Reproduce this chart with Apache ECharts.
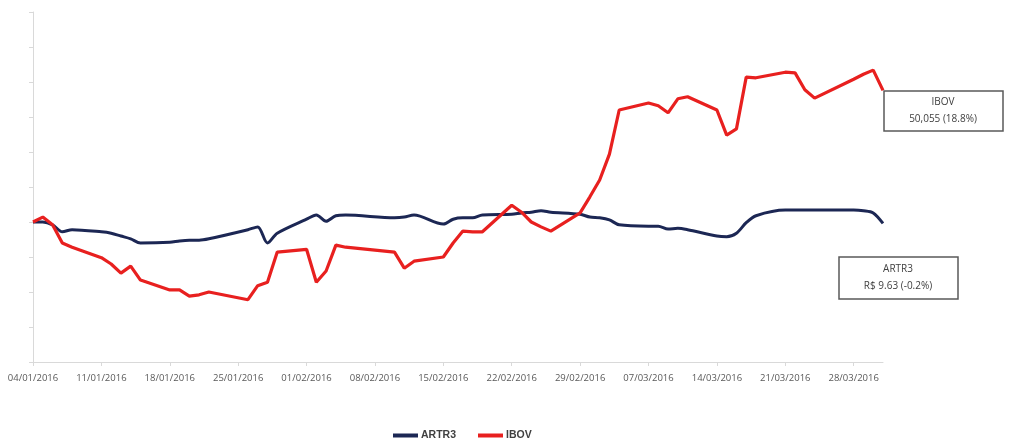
<!DOCTYPE html>
<html>
<head>
<meta charset="utf-8">
<script src="https://cdn.jsdelivr.net/npm/echarts@6/dist/echarts.min.js"></script>
<style>
html,body{margin:0;padding:0;background:#fff;}
#chart{width:1010px;height:441px;}
</style>
</head>
<body>
<div id="chart"></div>
<script>
// Trading dates (dd/mm/yyyy)
var dates = [
 "04/01/2016","05/01/2016","06/01/2016","07/01/2016","08/01/2016",
 "11/01/2016","12/01/2016","13/01/2016","14/01/2016","15/01/2016",
 "18/01/2016","19/01/2016","20/01/2016","21/01/2016","22/01/2016",
 "26/01/2016","27/01/2016","28/01/2016","29/01/2016",
 "01/02/2016","02/02/2016","03/02/2016","04/02/2016","05/02/2016",
 "10/02/2016","11/02/2016","12/02/2016",
 "15/02/2016","16/02/2016","17/02/2016","18/02/2016","19/02/2016",
 "22/02/2016","23/02/2016","24/02/2016","25/02/2016","26/02/2016",
 "29/02/2016","01/03/2016","02/03/2016","03/03/2016","04/03/2016",
 "07/03/2016","08/03/2016","09/03/2016","10/03/2016","11/03/2016",
 "14/03/2016","15/03/2016","16/03/2016","17/03/2016","18/03/2016",
 "21/03/2016","22/03/2016","23/03/2016","24/03/2016",
 "28/03/2016","29/03/2016","30/03/2016","31/03/2016"
];
// Normalised performance (base 100 on 04/01/2016)
var artr3 = [
 100.0,100.0,99.6,98.6,98.9,
 98.6,98.4,98.0,97.6,97.0,
 97.1,97.3,97.4,97.4,97.6,
 98.9,99.3,97.0,98.4,
 100.4,101.0,100.1,100.9,101.0,
 100.6,100.7,101.0,
 99.7,100.4,100.6,100.6,101.0,
 101.1,101.3,101.4,101.6,101.4,
 101.1,100.7,100.6,100.3,99.6,
 99.4,99.4,99.0,99.1,98.9,
 98.0,97.9,98.4,99.9,100.9,
 101.7,101.7,101.7,101.7,
 101.7,101.6,101.3,99.8
];
var ibov = [
 100.0,100.7,99.6,97.0,96.4,
 94.9,94.0,92.7,93.7,91.7,
 90.3,90.3,89.4,89.6,90.0,
 88.9,90.9,91.4,95.7,
 96.1,91.4,93.0,96.7,96.4,
 95.7,93.4,94.4,
 95.0,97.0,98.7,98.6,98.6,
 102.4,101.4,100.0,99.3,98.7,
 101.3,103.6,106.0,109.7,116.0,
 117.0,116.6,115.6,117.6,117.9,
 116.0,112.4,113.3,120.7,120.6,
 121.4,121.3,118.9,117.7,
 120.4,121.1,121.7,118.8
];
var seriesNames = ["ARTR3","IBOV"];
var annIbov = ["IBOV","50,055 (18.8%)"];
var annArtr = ["ARTR3","R$ 9.63 (-0.2%)"];
var yMin = 80, yMax = 130, yStep = 5;

var DAY = 86400000;
function parseD(s){var p=s.split("/");return Date.UTC(+p[2],+p[1]-1,+p[0]);}
var t0 = parseD(dates[0]);
var tEnd = parseD(dates[dates.length-1]);
function dayIdx(s){return Math.round((parseD(s)-t0)/DAY);}
function fmt(d){
  var dt=new Date(t0+d*DAY);
  var dd=("0"+dt.getUTCDate()).slice(-2), mm=("0"+(dt.getUTCMonth()+1)).slice(-2);
  return dd+"/"+mm+"/"+dt.getUTCFullYear();
}
var maxDay = Math.round((tEnd-t0)/DAY);
var weekTicks=[]; for(var k=0;k<=maxDay;k+=7) weekTicks.push(k);

var artrData = dates.map(function(d,i){return [dayIdx(d),artr3[i]];});
var ibovData = dates.map(function(d,i){return [dayIdx(d),ibov[i]];});

var chart = echarts.init(document.getElementById('chart'));
chart.setOption({
  animation:false,
  backgroundColor:'#ffffff',
  grid:{left:33,right:127,top:12,bottom:79,containLabel:false},
  xAxis:{
    type:'value',min:0,max:maxDay,interval:7,
    axisLine:{show:true,lineStyle:{color:'#d9d9d9',width:1}},
    axisTick:{show:true,customValues:weekTicks,length:4,lineStyle:{color:'#d9d9d9'}},
    splitLine:{show:false},
    axisLabel:{customValues:weekTicks,formatter:function(v){return fmt(v);},color:'#595959',
      fontFamily:'Open Sans',fontSize:9.5,margin:11}
  },
  yAxis:{
    type:'value',min:yMin,max:yMax,interval:yStep,
    axisLine:{show:true,lineStyle:{color:'#d9d9d9',width:1}},
    axisTick:{show:true,length:4,lineStyle:{color:'#d9d9d9'}},
    axisLabel:{show:false},
    splitLine:{show:false}
  },
  legend:{
    top:425,left:388,
    itemWidth:25,itemHeight:4,itemGap:22,icon:'rect',
    textStyle:{fontFamily:'Liberation Sans',fontSize:10.5,fontWeight:'bold',color:'#404040',padding:[0,0,0,-2]},
    data:seriesNames
  },
  series:[
    {name:seriesNames[0],type:'line',data:artrData,showSymbol:false,smooth:0.3,
     lineStyle:{color:'#1c2754',width:3},itemStyle:{color:'#1c2754'}},
    {name:seriesNames[1],type:'line',data:ibovData,showSymbol:false,
     lineStyle:{color:'#e8201f',width:3.2},itemStyle:{color:'#e8201f'}}
  ],
  graphic:[
    {type:'rect',x:884,y:91,shape:{width:119,height:40},
     style:{fill:'#fff',stroke:'#595959',lineWidth:1.5}},
    {type:'text',x:943,y:111,style:{text:annIbov.join("\n"),align:'center',verticalAlign:'middle',
      fontFamily:'Open Sans',fontSize:10,lineHeight:17,fill:'#404040'}},
    {type:'rect',x:839,y:257,shape:{width:119,height:42},
     style:{fill:'#fff',stroke:'#595959',lineWidth:1.5}},
    {type:'text',x:898,y:278,style:{text:annArtr.join("\n"),align:'center',verticalAlign:'middle',
      fontFamily:'Open Sans',fontSize:10,lineHeight:17,fill:'#404040'}}
  ]
});
</script>
</body>
</html>
